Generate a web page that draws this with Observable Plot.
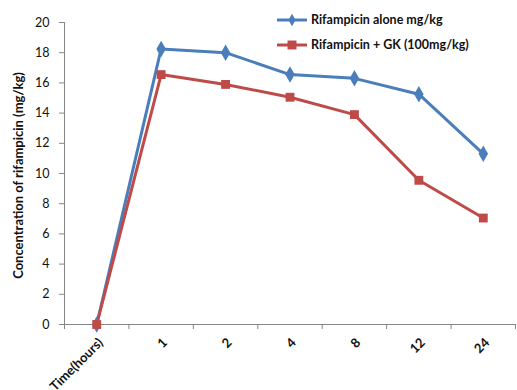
<!DOCTYPE html>
<html>
<head>
<meta charset="utf-8">
<script src="https://cdn.jsdelivr.net/npm/d3@7"></script>
<script src="https://cdn.jsdelivr.net/npm/@observablehq/plot@0.6"></script>
<style>
  html, body { margin: 0; padding: 0; background: #fff; }
  #wrap { position: relative; width: 517px; height: 390px; overflow: hidden; font-family: Lato, "Open Sans", sans-serif; }
  #legend { position: absolute; left: 276px; top: 7px; font-size: 12.5px; font-weight: bold; color: #111; }
  .item { display: flex; align-items: center; height: 25px; }
  .item svg { margin-right: 3px; }
</style>
</head>
<body>
<div id="wrap"><div id="legend"></div></div>
<script>
const categories = ["Time(hours)", "1", "2", "4", "8", "12", "24"];
const aloneValues = [0, 18.25, 18.0, 16.55, 16.3, 15.25, 11.3];
const gkValues = [0, 16.55, 15.9, 15.05, 13.9, 9.55, 7.05];
const yTicks = [0, 2, 4, 6, 8, 10, 12, 14, 16, 18, 20];
const seriesNames = ["Rifampicin alone mg/kg", "Rifampicin + GK (100mg/kg)"];
const seriesColors = ["#4a7ebb", "#be4b48"];
const seriesSymbols = ["diamond", "square"];

const data = [];
categories.forEach((c, i) => {
  data.push({series: seriesNames[0], idx: i + 0.5, value: aloneValues[i]});
  data.push({series: seriesNames[1], idx: i + 0.5, value: gkValues[i]});
});
const catData = categories.map((c, i) => ({label: c, idx: i + 0.5}));
const boundaries = d3.range(categories.length + 1);
const gray = "#868686";

const chart = Plot.plot({
  width: 517,
  height: 390,
  marginLeft: 64,
  marginRight: 2,
  marginTop: 22,
  marginBottom: 66,
  style: {fontFamily: "Lato, 'Open Sans', sans-serif", background: "white", overflow: "visible"},
  x: {type: "linear", domain: [0, categories.length], axis: null},
  y: {type: "linear", domain: [0, 20], axis: null},
  color: {domain: seriesNames, range: seriesColors},
  symbol: {domain: seriesNames, range: seriesSymbols},
  marks: [
    Plot.ruleY([0], {stroke: gray, strokeWidth: 1}),
    Plot.ruleX([0], {stroke: gray, strokeWidth: 1}),
    Plot.axisX(boundaries, {tickSize: 5, tickFormat: () => "", stroke: gray, tickPadding: 0, label: null}),
    Plot.axisY(yTicks, {tickSize: 5, tickPadding: 10, fontSize: 12.5, stroke: gray, fill: "#111", tickFormat: d => String(d), label: null}),
    Plot.text(["Concentration of rifampicin (mg/kg)"], {frameAnchor: "left", dx: -46, dy: 2, rotate: -90, textAnchor: "middle", fontWeight: "bold", fontSize: 13, fill: "#111"}),
    Plot.line(data, {x: "idx", y: "value", z: "series", stroke: "series", strokeWidth: 3}),
    Plot.dot(data, {x: "idx", y: "value", fill: "series", symbol: "series", r: 5, stroke: "none"}),
    Plot.text(catData, {x: "idx", y: 0, text: "label", rotate: -45, textAnchor: "end", dx: 4, dy: 16, fontWeight: "bold", fontSize: 13, fill: "#111"})
  ]
});
document.getElementById("wrap").prepend(chart);

const legend = document.getElementById("legend");
seriesNames.forEach((name, i) => {
  const item = document.createElement("div");
  item.className = "item";
  const ns = "http://www.w3.org/2000/svg";
  const s = document.createElementNS(ns, "svg");
  s.setAttribute("width", 32); s.setAttribute("height", 12);
  const ln = document.createElementNS(ns, "line");
  ln.setAttribute("x1", 1); ln.setAttribute("x2", 31); ln.setAttribute("y1", 6); ln.setAttribute("y2", 6);
  ln.setAttribute("stroke", seriesColors[i]); ln.setAttribute("stroke-width", 3);
  s.appendChild(ln);
  const p = document.createElementNS(ns, "path");
  p.setAttribute("d", d3.symbol(i === 0 ? d3.symbolDiamond : d3.symbolSquare, i === 0 ? 45 : 80)());
  p.setAttribute("transform", "translate(16,6)");
  p.setAttribute("fill", seriesColors[i]);
  s.appendChild(p);
  item.appendChild(s);
  const t = document.createElement("span");
  t.textContent = name;
  item.appendChild(t);
  legend.appendChild(item);
});
</script>
</body>
</html>
